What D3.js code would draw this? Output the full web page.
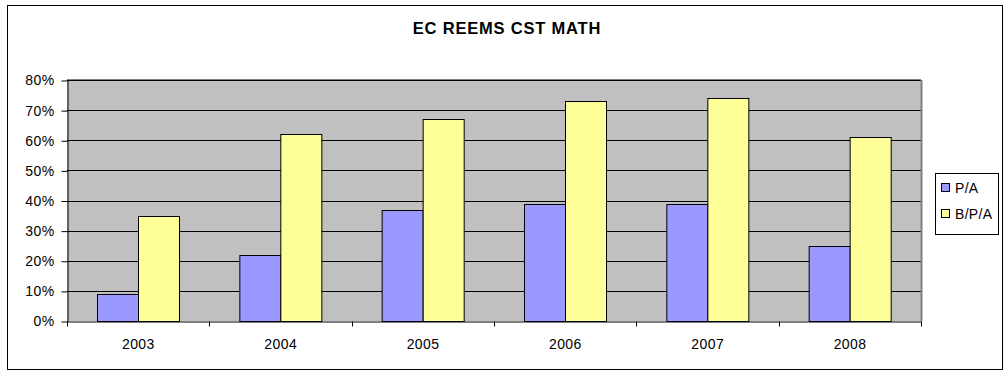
<!DOCTYPE html>
<html><head><meta charset="utf-8">
<script src="https://cdn.jsdelivr.net/npm/d3@7"></script>
<style>body{margin:0;background:#fff;font-family:"Liberation Sans",Arial,sans-serif;}</style>
</head><body><svg id="c" width="1006" height="373"></svg>
<script>
const categories = ["2003","2004","2005","2006","2007","2008"];
const seriesNames = ["P/A","B/P/A"];
const paValues = [0.09,0.22,0.37,0.39,0.39,0.25];
const bpaValues = [0.35,0.62,0.67,0.73,0.74,0.61];
const yTicks = [0,0.1,0.2,0.3,0.4,0.5,0.6,0.7,0.8];
const colors = ["#9999FF","#FFFF99"];
const FONT = "Liberation Sans, Arial, sans-serif";

const svg = d3.select("#c");
svg.append("rect").attr("x",7.5).attr("y",5.5).attr("width",995).attr("height",364)
  .attr("fill","#fff").attr("stroke","#000").attr("stroke-width",1);

const L=67, R=921, T=80, B=321;
const x = d3.scaleBand().domain(categories).range([L,R]);
const x1 = d3.scaleBand().domain(seriesNames).range([0,x.bandwidth()]).paddingInner(0).paddingOuter(0.72);
const y = d3.scaleLinear().domain([0,0.8]).range([B,T]);

svg.append("rect").attr("x",L).attr("y",T).attr("width",R-L).attr("height",B-T).attr("fill","#C0C0C0");
svg.append("g").selectAll("line").data(yTicks.filter(d=>d>0)).join("line")
  .attr("x1",L).attr("x2",R).attr("y1",d=>Math.round(y(d))+0.5).attr("y2",d=>Math.round(y(d))+0.5)
  .attr("stroke","#000").attr("stroke-width",1);
svg.append("line").attr("x1",R+0.5).attr("x2",R+0.5).attr("y1",T).attr("y2",B).attr("stroke","#808080").attr("stroke-width",2);
svg.append("line").attr("x1",L).attr("x2",R).attr("y1",T-0.5).attr("y2",T-0.5).attr("stroke","#808080").attr("stroke-width",1);

const data = categories.map((c,i)=>({c, vals:[paValues[i],bpaValues[i]]}));
const g = svg.append("g");
g.selectAll("g").data(data).join("g").attr("transform",d=>`translate(${x(d.c)},0)`)
  .selectAll("rect").data(d=>d.vals.map((v,j)=>({v,s:seriesNames[j],j})))
  .join("rect")
  .attr("x",d=>Math.round(x1(d.s))+0.5).attr("width",Math.round(x1.bandwidth()))
  .attr("y",d=>Math.round(y(d.v))+0.5).attr("height",d=>Math.round(B-y(d.v)))
  .attr("fill",d=>colors[d.j]).attr("stroke","#000").attr("stroke-width",1);

// y axis
const yAxis = d3.axisLeft(y).tickValues(yTicks).tickFormat(d3.format(".0%")).tickSize(6).tickPadding(7).tickSizeOuter(0);
const ya = svg.append("g").attr("transform",`translate(${L+0.5},0.5)`).call(yAxis);
ya.selectAll("text").attr("font-size","14px").attr("font-family",FONT).attr("fill","#000").attr("letter-spacing","0.4px");
ya.selectAll("line,path").attr("stroke","#000");

// x axis
const xAxis = d3.axisBottom(x).tickSize(0).tickSizeOuter(0);
const xa = svg.append("g").attr("transform",`translate(0,${B+0.5})`).call(xAxis);
xa.selectAll("text").attr("font-size","14px").attr("font-family",FONT).attr("fill","#000")
  .attr("letter-spacing","0.4px").attr("dx","0.2").attr("y",27).attr("dy",0);
xa.selectAll("path").attr("stroke","#000");
xa.append("g").selectAll("line").data(d3.range(categories.length+1)).join("line")
  .attr("x1",i=>Math.round(L+i*x.step())+0.5).attr("x2",i=>Math.round(L+i*x.step())+0.5)
  .attr("y1",0).attr("y2",5).attr("stroke","#000");

// title
svg.append("text").attr("x",507).attr("y",34).attr("text-anchor","middle")
  .attr("font-size","16.5px").attr("font-weight","bold").attr("letter-spacing","0.8px")
  .attr("font-family",FONT).text("EC REEMS CST MATH");

// legend
const lg = svg.append("g");
lg.append("rect").attr("x",935.5).attr("y",173.5).attr("width",63).attr("height",61).attr("fill","#fff").attr("stroke","#000");
seriesNames.forEach((s,i)=>{
  const cy = 187 + i*26;
  lg.append("rect").attr("x",941.5).attr("y",cy-3.5).attr("width",8).attr("height",8).attr("fill",colors[i]).attr("stroke","#000");
  lg.append("text").attr("x",955).attr("y",cy+5.5).attr("font-size","14px").attr("letter-spacing","0.3px")
    .attr("font-family",FONT).text(s);
});
</script></body></html>
